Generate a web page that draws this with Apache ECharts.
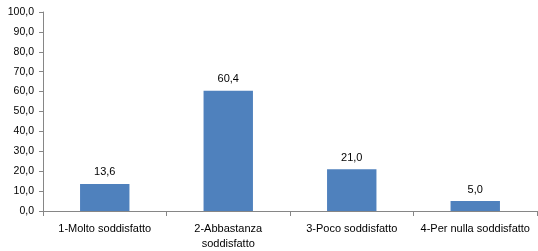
<!DOCTYPE html>
<html><head><meta charset="utf-8">
<script src="https://cdn.jsdelivr.net/npm/echarts@6/dist/echarts.min.js"></script>
<style>html,body{margin:0;padding:0;background:#fff}#c{width:538px;height:251px}</style>
</head><body><div id="c"></div>
<script>
const categories = ['1-Molto soddisfatto', '2-Abbastanza\nsoddisfatto', '3-Poco soddisfatto', '4-Per nulla soddisfatto'];
const values = [13.6, 60.4, 21.0, 5.0];
const yMin = 0, yMax = 100, yStep = 10;

const fmt = v => v.toFixed(1).replace('.', ',');
const chart = echarts.init(document.getElementById('c'), null, {renderer: 'canvas'});
const font = 'Liberation Sans, Arial, sans-serif';
chart.setOption({
  animation: false,
  grid: {left: 43, right: 1, top: 12, bottom: 39, containLabel: false},
  xAxis: {
    type: 'category', data: categories,
    axisLine: {lineStyle: {color: '#868686', width: 1}},
    axisTick: {show: true, inside: false, length: 5, lineStyle: {color: '#868686'}},
    axisLabel: {color: '#000', fontFamily: font, fontSize: 11, margin: 10, lineHeight: 15, interval: 0}
  },
  yAxis: {
    type: 'value', min: yMin, max: yMax, interval: yStep,
    axisLine: {show: true, lineStyle: {color: '#868686', width: 1}},
    axisTick: {show: true, inside: false, length: 4, lineStyle: {color: '#868686'}},
    splitLine: {show: false},
    axisLabel: {color: '#000', fontFamily: font, fontSize: 10.5, margin: 9, formatter: fmt}
  },
  series: [{
    type: 'bar', data: values, barWidth: '40%',
    itemStyle: {color: '#4F81BD'},
    label: {show: true, position: 'top', distance: 6, color: '#000', fontFamily: font, fontSize: 11, formatter: p => fmt(p.value)}
  }]
});
</script></body></html>
